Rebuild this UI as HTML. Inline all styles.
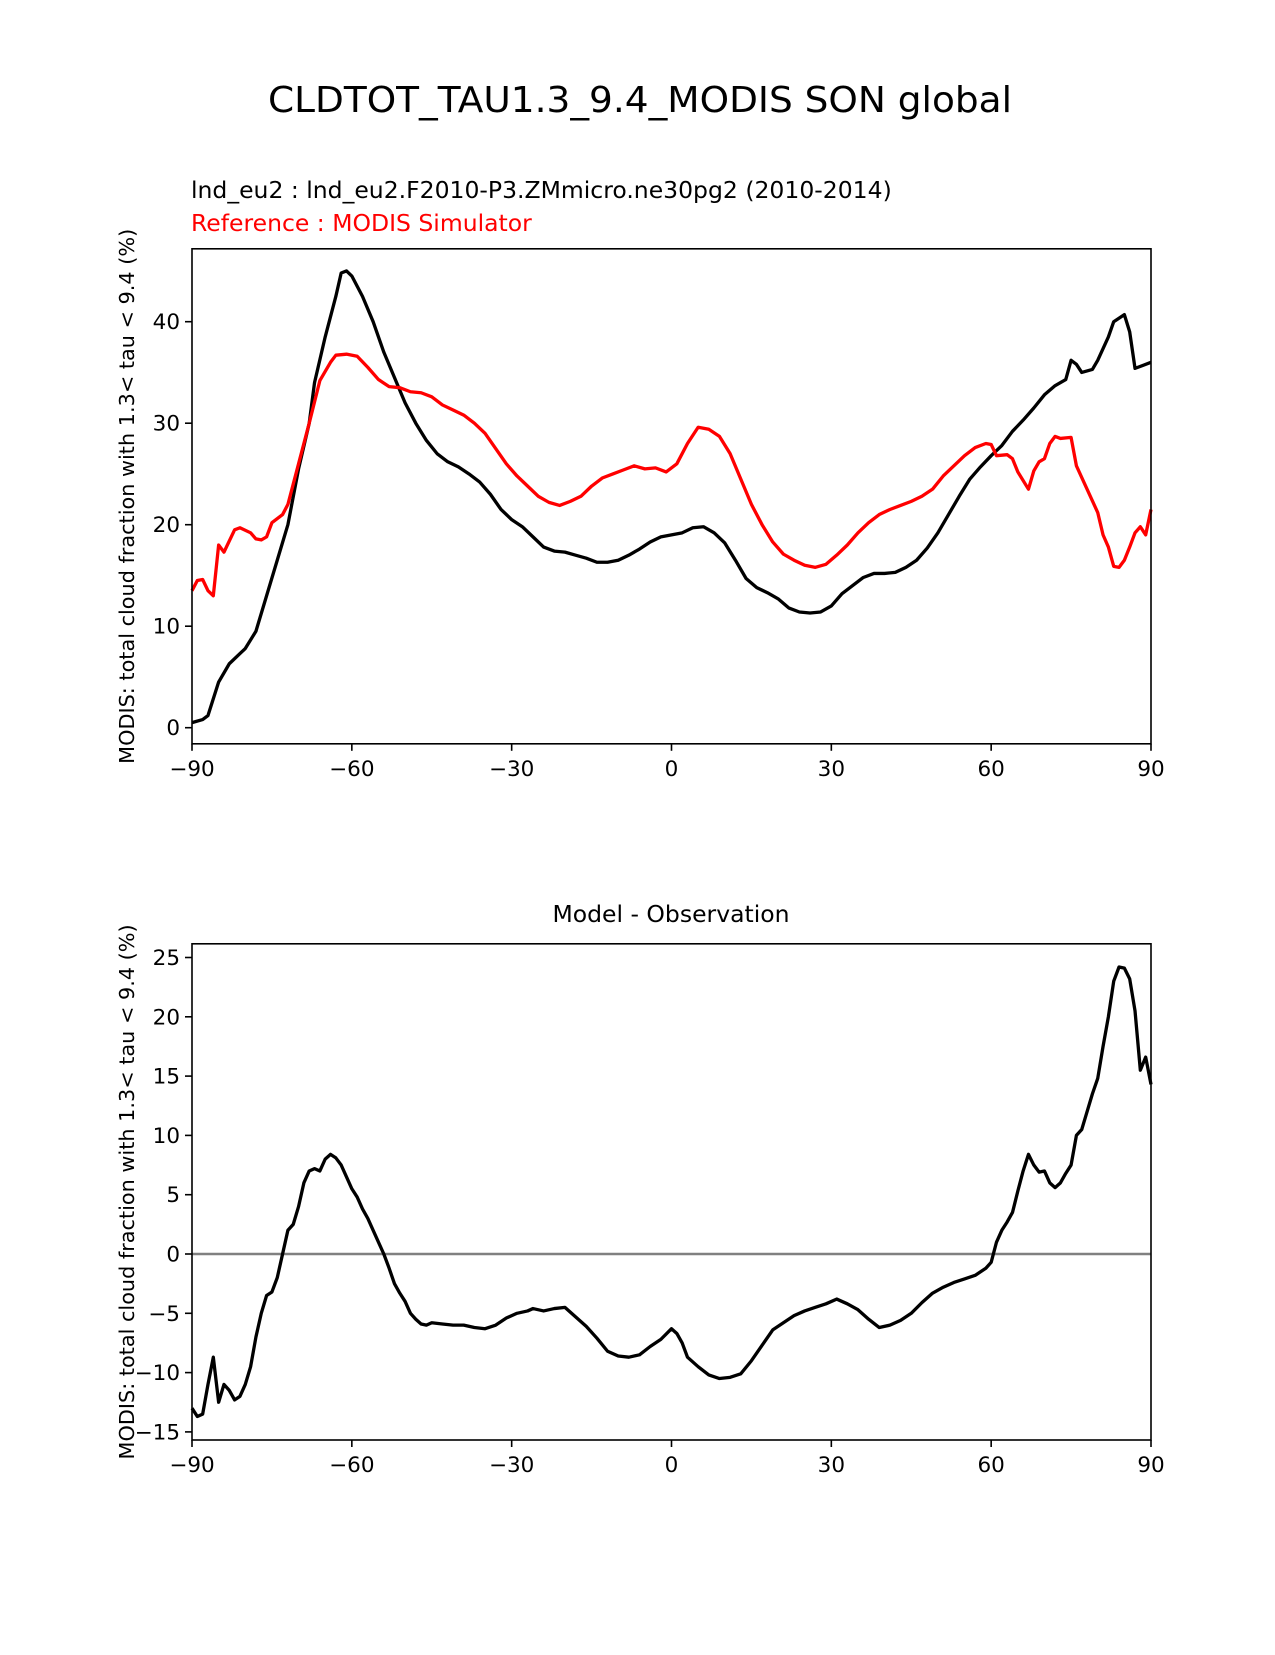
<!DOCTYPE html>
<html><head><meta charset="utf-8"><style>
html,body{margin:0;padding:0;background:#fff;}
svg text{font-family:"DejaVu Sans","Liberation Sans",sans-serif;}
</style></head><body>
<svg id="fig" width="1275" height="1650" viewBox="0 0 1275 1650" xmlns="http://www.w3.org/2000/svg">
<rect width="1275" height="1650" fill="#fff"/>
<text x="640" y="112" font-size="36" text-anchor="middle" textLength="744" lengthAdjust="spacingAndGlyphs">CLDTOT_TAU1.3_9.4_MODIS SON global</text>
<text x="191" y="198" font-size="23.5">lnd_eu2 : lnd_eu2.F2010-P3.ZMmicro.ne30pg2 (2010-2014)</text>
<text x="191" y="231" font-size="23.5" fill="#ff0000">Reference : MODIS Simulator</text>
<text x="671" y="922" font-size="23.5" text-anchor="middle">Model - Observation</text>
<g id="top"></g>
<g id="bot"></g>
</svg>
<script>
const latsModel = [-90,-88,-87,-85,-83,-81,-80,-78,-76,-74,-72,-70,-68,-67,-65,-63,-62,-61,-60,-58,-56,-54,-52,-50,-48,-46,-44,-42,-40,-38,-36,-34,-32,-30,-28,-26,-24,-22,-20,-18,-16,-14,-12,-10,-8,-6,-4,-2,0,2,4,6,8,10,12,14,16,18,20,22,24,26,28,30,32,34,36,38,40,42,44,46,48,50,52,54,56,58,60,62,64,66,68,70,72,74,75,76,77,79,80,82,83,85,86,87,90];
const modelVals = [0.5,0.8,1.2,4.5,6.3,7.3,7.8,9.5,13,16.5,20,25.5,30,34,38.5,42.5,44.8,45,44.5,42.5,40,37,34.5,32,30,28.3,27,26.2,25.7,25,24.2,23,21.5,20.5,19.8,18.8,17.8,17.4,17.3,17,16.7,16.3,16.3,16.5,17,17.6,18.3,18.8,19,19.2,19.7,19.8,19.2,18.2,16.5,14.7,13.8,13.3,12.7,11.8,11.4,11.3,11.4,12,13.2,14,14.8,15.2,15.2,15.3,15.8,16.5,17.7,19.2,21,22.8,24.5,25.7,26.8,27.8,29.2,30.3,31.5,32.8,33.7,34.3,36.2,35.8,35,35.3,36.2,38.5,40,40.7,39,35.4,36];
const latsRef = [-90,-89,-88,-87,-86,-85,-84,-82,-81,-79,-78,-77,-76,-75,-73,-72,-70,-68,-66,-64,-63,-61,-59,-57,-55,-53,-51,-49,-47,-45,-43,-41,-39,-37,-35,-33,-31,-29,-27,-25,-23,-21,-19,-17,-15,-13,-11,-9,-7,-5,-3,-1,1,3,5,7,9,11,13,15,17,19,21,23,25,27,29,31,33,35,37,39,41,43,45,47,49,51,53,55,57,59,60,61,63,64,65,67,68,69,70,71,72,73,75,76,78,80,81,82,83,84,85,86,87,88,89,90];
const refVals = [13.5,14.5,14.6,13.5,13,18,17.3,19.5,19.7,19.2,18.6,18.5,18.8,20.2,21,22,26,30,34.2,36,36.7,36.8,36.6,35.5,34.3,33.6,33.5,33.1,33,32.6,31.8,31.3,30.8,30,29,27.5,26,24.8,23.8,22.8,22.2,21.9,22.3,22.8,23.8,24.6,25,25.4,25.8,25.5,25.6,25.2,26,28,29.6,29.4,28.7,27,24.5,22,20,18.3,17.1,16.5,16,15.8,16.1,17,18,19.2,20.2,21,21.5,21.9,22.3,22.8,23.5,24.8,25.8,26.8,27.6,28,27.9,26.8,26.9,26.5,25.2,23.5,25.3,26.2,26.5,28,28.7,28.5,28.6,25.8,23.5,21.2,19,17.8,15.9,15.8,16.5,17.8,19.2,19.8,19,21.5];
const latsDiff = [-90,-89,-88,-87,-86,-85,-84,-83,-82,-81,-80,-79,-78,-77,-76,-75,-74,-73,-72,-71,-70,-69,-68,-67,-66,-65,-64,-63,-62,-61,-60,-59,-58,-57,-56,-55,-54,-53,-52,-51,-50,-49,-48,-47,-46,-45,-43,-41,-39,-37,-35,-33,-31,-29,-27,-26,-24,-22,-20,-18,-16,-14,-12,-10,-8,-6,-4,-2,0,1,2,3,5,7,9,11,13,15,17,19,21,23,25,27,29,31,33,35,37,39,41,43,45,47,49,51,53,55,57,59,60,61,62,63,64,65,66,67,68,69,70,71,72,73,74,75,76,77,78,79,80,81,82,83,84,85,86,87,88,89,90];
const diffVals = [-13,-13.7,-13.5,-11,-8.7,-12.5,-11,-11.5,-12.3,-12,-11,-9.5,-7,-5,-3.5,-3.2,-2,0,2,2.5,4,6,7,7.2,7,8,8.4,8.1,7.5,6.5,5.5,4.8,3.8,3,2,1,0,-1.2,-2.5,-3.3,-4,-5,-5.5,-5.9,-6,-5.8,-5.9,-6,-6,-6.2,-6.3,-6,-5.4,-5,-4.8,-4.6,-4.8,-4.6,-4.5,-5.3,-6.1,-7.1,-8.2,-8.6,-8.7,-8.5,-7.8,-7.2,-6.3,-6.7,-7.5,-8.7,-9.5,-10.2,-10.5,-10.4,-10.1,-9,-7.7,-6.4,-5.8,-5.2,-4.8,-4.5,-4.2,-3.8,-4.2,-4.7,-5.5,-6.2,-6,-5.6,-5,-4.1,-3.3,-2.8,-2.4,-2.1,-1.8,-1.2,-0.7,1,2,2.7,3.5,5.3,7,8.4,7.5,6.9,7,6,5.6,6,6.8,7.5,10,10.5,12,13.5,14.8,17.5,20,23,24.2,24.1,23.2,20.5,15.5,16.6,14.3];
const xTicks = [-90,-60,-30,0,30,60,90];
const xTickLabels = ["\u221290","\u221260","\u221230","0","30","60","90"];
const topYTicks = [0,10,20,30,40];
const botYTicks = [-15,-10,-5,0,5,10,15,20,25];

const NS="http://www.w3.org/2000/svg";
function mk(p,t,a){const e=document.createElementNS(NS,t);for(const k in a)e.setAttribute(k,a[k]);p.appendChild(e);return e;}
const L=192,R=1151;
const xs=v=>L+(v+90)/180*(R-L);
function panel(g,top,bot,py,ticks,prefix){
  const box=mk(g,'rect',{x:L,y:top,width:R-L,height:bot-top,fill:'none',stroke:'#000','stroke-width':1.6});
  
  
  xTicks.forEach((t,i)=>{
    const x=xs(t);
    const tk=mk(g,'line',{x1:x,x2:x,y1:bot,y2:bot+7,stroke:'#000','stroke-width':1.6});
    
    
    const tx=mk(g,'text',{x:x,y:bot+32,'font-size':21.5,'text-anchor':'middle'});
    tx.textContent=xTickLabels[i];
    
    
  });
  ticks.forEach(t=>{
    const y=py(t);
    const tk=mk(g,'line',{x1:L-7,x2:L,y1:y,y2:y,stroke:'#000','stroke-width':1.6});
    
    
    const tx=mk(g,'text',{x:L-12,y:y+7.5,'font-size':21.5,'text-anchor':'end'});
    tx.textContent=t<0?'\u2212'+(-t):String(t);
    
    
  });
  const yl=mk(g,'text',{x:0,y:0,'font-size':20.8,'text-anchor':'middle',transform:`translate(134,${(top+bot)/2}) rotate(-90)`});
  yl.textContent='MODIS: total cloud fraction with 1.3< tau < 9.4 (%)';
  
  
}
function line(g,lats,vals,py,color,name){
  const d=lats.map((la,i)=>(i?'L':'M')+xs(la).toFixed(2)+' '+py(vals[i]).toFixed(2)).join(' ');
  const p=mk(g,'path',{d:d,fill:'none',stroke:color,'stroke-width':3.3,'stroke-linejoin':'round'});
  
  
}
const topG=document.getElementById('top');
const pyTop=v=>727.7-v*10.15;
line(topG,latsModel,modelVals,pyTop,'#000','model-line');
line(topG,latsRef,refVals,pyTop,'#ff0000','reference-line');
panel(topG,248.8,743.8,pyTop,topYTicks,'top');
const botG=document.getElementById('bot');
const pyBot=v=>1254-v*11.86;
const zl=mk(botG,'line',{x1:L,x2:R,y1:pyBot(0),y2:pyBot(0),stroke:'#808080','stroke-width':2.5});


line(botG,latsDiff,diffVals,pyBot,'#000','difference-line');
panel(botG,943.8,1440,pyBot,botYTicks,'diff');
</script>
</body></html>
